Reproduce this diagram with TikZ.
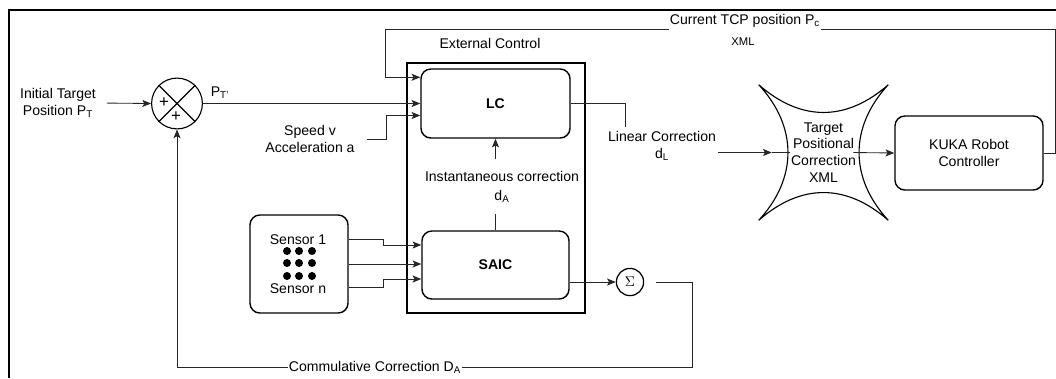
\documentclass[tikz,border=0pt]{standalone}
\usepackage{fontspec}
\setmainfont{Liberation Sans}
\usetikzlibrary{shapes,calc,arrows.meta}

\begin{document}
\begin{tikzpicture}[%
    x=0.025cm, y=-0.025cm,
    blockName/.style={
      rectangle,
      draw,
      line width=1pt,
      rounded corners=7pt,
      align=center
    },
    textName/.style={
      align=center
    },
    plainLine/.style={
      line width=0.6pt,
      black!85
    },
    arrowLine/.style={
      plainLine,
      -{Stealth[length=6.2pt,width=5pt,inset=1.4pt]}
    }
  ]

    % Page size and frame
    \useasboundingbox (0,0) rectangle (1056,378);
    \draw[line width=1.4pt] (9,378) -- (9,10) -- (1056,10);

    \draw (496,188) node[rectangle, draw, line width=1.1pt, minimum width=4.45cm, minimum height=6.25cm] (EC) {}
          (490,43) node[textName] (ECT) {External Control}
          (495.5,103.5) node[blockName, minimum width=3.725cm, minimum height=1.725cm, font=\bfseries] (LC) {LC}
          (495.5,265) node[blockName, minimum width=3.675cm, minimum height=1.7cm, font=\bfseries] (SAIC) {SAIC}
          (299,264) node[blockName, minimum width=2.45cm, minimum height=2.45cm] (Sens) {}
          (298,240) node[textName] (SensA) {Sensor 1}
          (298,289) node[textName] (SensN) {Sensor n}
          (969,153) node[blockName, minimum width=3.7cm, minimum height=1.85cm] (KUKA) {KUKA Robot\\Controller}
          (823.5,152.5) node[rectangle, minimum width=3.225cm, minimum height=3.375cm, textName] (Star) {Target\\Positional\\Correction\\XML}
          (177,103.5) node[circle, draw, line width=0.8pt, minimum size=1.27cm, inner sep=0pt] (Sum) {}
          (164,103) node[font=\large, inner sep=0pt] (PlusA) {+}
          (176,117) node[font=\large, inner sep=0pt] (PlusB) {+}
          (630,282) node[circle, draw, line width=0.9pt, minimum size=0.68cm, inner sep=0pt] (Sigma) {$\Sigma$}
          (58,103) node[textName] (PT) {Initial Target\\Position P\textsubscript{T}}
          (220,93) node[textName] (PTp) {P\textsubscript{T'}}
          (310,139) node[textName] (SA) {Speed v\\Acceleration a}
          (662,146) node[textName, inner xsep=1pt, inner ysep=3pt] (LCor) {Linear Correction\\d\textsubscript{L}}
          (502,186.5) node[textName, inner ysep=8pt] (Inst) {Instantaneous correction\\[1.5pt]d\textsubscript{A}}
          (745,21) node[textName, inner xsep=0.5pt] (TCP) {Current TCP position P\textsubscript{c}}
          (743,42) node[textName, font=\footnotesize] (XML) {XML}
          (375,367) node[textName, inner xsep=0.5pt] (Cum) {Commulative Correction D\textsubscript{A}};

    % Concave outline round the XML correction, one arc per side
    \draw[line width=0.8pt]
          (Star.north west) .. controls ($(Star.north west)+(42,37)$) and ($(Star.north east)+(-42,37)$) .. (Star.north east)
          (Star.north east) .. controls ($(Star.north east)+(-39,42)$) and ($(Star.south east)+(-39,-42)$) .. (Star.south east)
          (Star.south east) .. controls ($(Star.south east)+(-42,-37)$) and ($(Star.south west)+(42,-37)$) .. (Star.south west)
          (Star.south west) .. controls ($(Star.south west)+(39,-42)$) and ($(Star.north west)+(39,42)$) .. (Star.north west);

    % Summing junction
    \draw[line width=0.8pt] (Sum.north west) -- (Sum.south east)
                            (Sum.north east) -- (Sum.south west);

    % Sensor array
    \fill (287,251) circle (0.1cm) (299,251) circle (0.1cm) (312,251) circle (0.1cm)
          (287,263) circle (0.1cm) (299,263) circle (0.1cm) (312,263) circle (0.1cm)
          (287,276) circle (0.1cm) (299,276) circle (0.1cm) (312,276) circle (0.1cm);

    % Forward path
    \draw[arrowLine, shorten <=4pt] (PT.east) -- (Sum.west);
    \draw[arrowLine] (Sum.east) -- (LC.west);
    \draw[arrowLine, shorten <=5pt] (SA.east) -| ($(LC.west)+(-34,12)$) -- ($(LC.west)+(0,12)$);
    \draw[plainLine] (LC.east) -| ($(LCor.north west)+(19,0)$);
    \draw[arrowLine] (LCor.east |- Star) -- ($(Star.west)+(13,0)$);
    \draw[plainLine] ($(Star.west)+(13,0)$) -- ($(Star.west)+(31,0)$);
    \draw[arrowLine] ($(Star.east)+(-35,0)$) -- (KUKA.west);

    % Sensors into SAIC
    \draw[arrowLine] ($(Sens.east)+(0,-25)$) -| ($(SAIC.west)+(-38,-20)$) -- ($(SAIC.west)+(0,-20)$);
    \draw[arrowLine] (Sens.east) -- (Sens.east -| SAIC.west);
    \draw[arrowLine] ($(Sens.east)+(0,23)$) -| ($(SAIC.west)+(-38,14)$) -- ($(SAIC.west)+(0,14)$);
    \draw[plainLine] (SAIC.north) -- (SAIC.north |- Inst.south);
    \draw[arrowLine] (LC.south |- Inst.north) -- (LC.south);
    \draw[arrowLine] ($(SAIC.east)+(0,17)$) -- (Sigma.west);

    % Feedback paths
    \coordinate (FbR) at (1055,29);
    \coordinate (FbL) at (385,29);
    \draw[plainLine] (KUKA.east) -| (FbR) -- (FbR -| TCP.east);
    \draw[arrowLine] (FbR -| TCP.west) -- (FbL) |- ($(LC.north west)+(0,9)$);
    \draw[plainLine] ($(Sigma.east)+(12,0)$) -- ++(36,0) |- (Cum.east);
    \draw[arrowLine] (Cum.west) -| (Sum.south);
\end{tikzpicture}
\end{document}
